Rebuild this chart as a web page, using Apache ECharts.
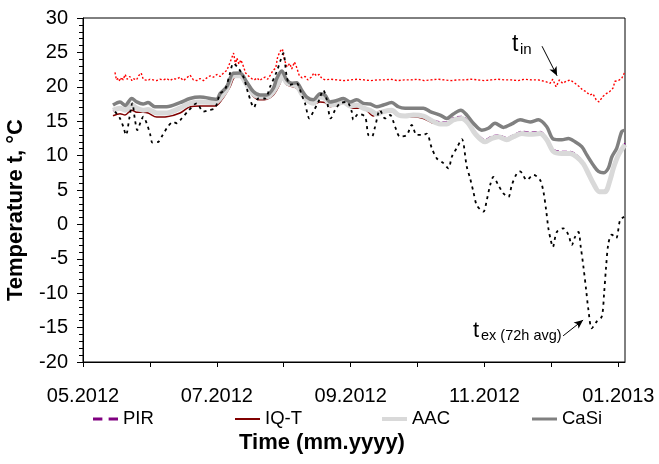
<!DOCTYPE html>
<html>
<head>
<meta charset="utf-8">
<script src="https://cdn.jsdelivr.net/npm/echarts@6/dist/echarts.min.js"></script>
<style>html,body{margin:0;padding:0;background:#fff}#c{width:659px;height:464px}</style>
</head>
<body>
<div id="c"></div>
<script>
// x values are months since 01.05.2012
const xTickValues = [0, 1, 2, 3, 4, 5, 6, 7, 8];
const xTickLabels = ['05.2012', '', '07.2012', '', '09.2012', '', '11.2012', '', '01.2013'];
const yTicks = [-20, 30, 5];

const casi = [[0.448,17.35],[0.553,17.8],[0.628,17.3],[0.728,18.3],[0.803,17.8],[0.897,17.5],[0.972,17.7],[1.076,17.1],[1.251,17.1],[1.450,17.7],[1.599,18.3],[1.749,18.5],[1.999,18.2],[2.048,19.0],[2.148,20.0],[2.247,21.96],[2.347,22.0],[2.447,20.7],[2.546,19.3],[2.646,18.8],[2.746,18.8],[2.845,19.8],[2.895,21.2],[2.970,22.3],[3.045,21.0],[3.120,20.5],[3.194,20.6],[3.269,19.5],[3.344,18.5],[3.442,18.1],[3.543,19.0],[3.617,18.8],[3.692,17.8],[3.792,18.0],[3.891,18.3],[3.991,17.8],[4.091,18.1],[4.190,17.6],[4.290,17.5],[4.390,17.1],[4.489,17.35],[4.614,17.7],[4.713,17.1],[4.813,16.9],[4.937,16.9],[5.087,16.9],[5.187,16.4],[5.336,15.9],[5.437,15.4],[5.535,16.05],[5.646,16.6],[5.735,15.9],[5.834,14.7],[5.960,13.7],[6.058,13.97],[6.158,14.7],[6.283,14.1],[6.408,14.6],[6.532,15.2],[6.682,14.9],[6.806,15.2],[6.931,14.2],[7.030,12.4],[7.156,12.3],[7.254,12.5],[7.354,12.0],[7.454,11.3],[7.529,10.1],[7.628,8.6],[7.703,7.7],[7.777,7.5],[7.852,8.2],[7.903,9.8],[7.977,11.1],[8.052,13.5],[8.100,13.7]];

const aac = [[0.448,16.6],[0.553,16.9],[0.628,16.6],[0.728,17.35],[0.803,16.9],[0.897,16.6],[0.972,16.7],[1.102,16.2],[1.251,16.2],[1.450,16.9],[1.599,17.6],[1.749,17.8],[1.973,17.7],[2.048,18.3],[2.148,19.6],[2.247,21.6],[2.347,21.6],[2.447,20.3],[2.546,18.95],[2.646,18.5],[2.746,18.5],[2.845,19.3],[2.945,21.0],[2.975,21.8],[3.045,20.6],[3.194,20.1],[3.269,19.0],[3.344,18.1],[3.442,17.6],[3.543,18.5],[3.617,18.3],[3.692,17.35],[3.792,17.5],[3.891,17.8],[3.991,17.2],[4.091,17.35],[4.190,16.9],[4.290,16.6],[4.390,16.05],[4.489,16.4],[4.614,16.6],[4.713,15.9],[4.813,15.75],[4.937,15.9],[5.087,15.75],[5.187,15.2],[5.336,14.6],[5.437,14.6],[5.535,15.2],[5.661,15.4],[5.759,14.7],[5.859,13.2],[6.009,12.0],[6.109,12.5],[6.208,12.75],[6.333,12.3],[6.432,12.75],[6.557,13.2],[6.682,13.1],[6.831,13.2],[6.931,12.3],[7.030,10.6],[7.156,10.3],[7.279,10.3],[7.380,9.8],[7.478,8.8],[7.553,7.4],[7.628,5.95],[7.718,4.75],[7.803,4.75],[7.877,6.45],[7.927,8.2],[8.002,10.1],[8.100,11.6]];

const pir = [[0.448,16.5],[0.553,16.8],[0.628,16.5],[0.728,17.2],[0.803,16.8],[0.897,16.5],[0.972,16.6],[1.102,16.1],[1.251,16.1],[1.450,16.8],[1.599,17.5],[1.749,17.7],[1.973,17.6],[2.048,18.2],[2.148,19.5],[2.247,21.5],[2.347,21.5],[2.447,20.2],[2.546,18.9],[2.646,18.4],[2.746,18.4],[2.845,19.2],[2.945,20.9],[2.975,21.7],[3.045,20.5],[3.194,20.0],[3.269,18.9],[3.344,18.0],[3.442,17.5],[3.543,18.4],[3.617,18.2],[3.692,17.3],[3.792,17.4],[3.891,17.7],[3.991,17.2],[4.091,17.3],[4.190,16.9],[4.290,16.6],[4.390,16.1],[4.489,16.4],[4.614,16.7],[4.713,16.0],[4.813,15.9],[4.937,16.0],[5.087,15.9],[5.187,15.4],[5.336,14.9],[5.437,14.9],[5.535,15.5],[5.661,15.7],[5.759,15.0],[5.859,13.5],[6.009,12.3],[6.109,12.8],[6.208,13.0],[6.333,12.6],[6.432,13.0],[6.557,13.5],[6.682,13.4],[6.831,13.5],[6.931,12.6],[7.030,10.9],[7.156,10.6],[7.279,10.6],[7.380,10.1],[7.478,9.0],[7.553,7.5],[7.628,5.9],[7.718,4.9],[7.803,5.0],[7.877,6.6],[7.927,8.4],[8.002,10.3],[8.100,11.8]];

const iqt = [[0.448,15.8],[0.553,16.1],[0.628,15.9],[0.728,16.6],[0.803,16.3],[0.897,16.3],[0.972,16.2],[1.102,15.6],[1.251,15.65],[1.450,16.2],[1.599,17.1],[1.749,17.2],[1.973,17.2],[2.073,18.1],[2.197,20.0],[2.272,21.4],[2.347,21.4],[2.447,20.0],[2.546,18.6],[2.646,18.1],[2.746,18.2],[2.845,18.8],[2.945,20.5],[2.975,21.6],[3.045,20.3],[3.194,19.8],[3.269,18.7],[3.344,17.9],[3.442,17.5],[3.543,17.8],[3.617,17.7],[3.692,17.1],[3.792,17.3],[3.891,17.6],[4.030,16.9],[4.190,16.9],[4.340,15.75],[4.440,16.5],[4.614,16.4],[4.713,15.75],[4.840,15.6],[4.937,15.65],[5.087,15.4],[5.230,14.7]];

const tex = [[0.478,16.4],[0.553,15.4],[0.602,14.2],[0.643,13.0],[0.692,15.4],[0.737,17.6],[0.777,15.2],[0.812,13.7],[0.862,14.9],[0.901,15.65],[0.952,14.7],[1.001,13.2],[1.039,11.9],[1.126,12.0],[1.176,12.75],[1.275,14.3],[1.350,14.9],[1.401,14.7],[1.475,15.4],[1.574,16.5],[1.700,17.6],[1.798,16.4],[1.873,16.6],[1.973,16.9],[2.048,19.0],[2.123,19.6],[2.197,21.96],[2.247,23.4],[2.321,22.7],[2.396,21.5],[2.471,19.0],[2.556,17.0],[2.620,18.3],[2.720,18.3],[2.795,20.0],[2.895,22.2],[2.945,23.65],[2.994,24.9],[3.045,21.5],[3.094,20.3],[3.194,20.5],[3.269,18.8],[3.318,17.6],[3.383,15.4],[3.442,16.4],[3.517,17.8],[3.592,19.5],[3.643,18.1],[3.702,15.4],[3.767,16.6],[3.842,17.6],[3.942,17.8],[4.016,16.4],[4.040,15.2],[4.115,16.05],[4.215,15.65],[4.264,13.0],[4.315,12.75],[4.365,14.2],[4.439,16.6],[4.514,15.4],[4.589,15.9],[4.664,14.2],[4.738,12.75],[4.839,13.0],[4.913,14.45],[4.988,13.0],[5.087,13.0],[5.137,13.2],[5.212,11.1],[5.287,9.6],[5.386,8.9],[5.461,8.15],[5.511,9.8],[5.586,11.1],[5.661,12.4],[5.735,8.4],[5.785,6.7],[5.834,4.75],[5.885,2.8],[5.984,1.85],[6.034,3.5],[6.084,5.7],[6.133,6.9],[6.208,5.7],[6.283,4.5],[6.357,4.0],[6.408,5.7],[6.483,7.4],[6.532,7.7],[6.632,6.45],[6.731,7.2],[6.831,6.45],[6.881,4.75],[6.921,2.1],[6.955,-0.57],[6.991,-2.3],[7.021,-3.3],[7.081,-1.1],[7.180,-0.57],[7.254,-1.5],[7.305,-3.0],[7.354,-1.8],[7.404,-1.1],[7.439,-3.3],[7.478,-6.1],[7.519,-9.5],[7.553,-12.4],[7.604,-15.1],[7.679,-14.1],[7.753,-13.4],[7.788,-10.0],[7.818,-6.1],[7.852,-2.75],[7.903,-1.5],[7.967,-2.0],[8.027,0.64],[8.087,1.1]];

const tin = [[0.478,22.1],[0.50,21.0],[0.53,21.3],[0.55,20.8],[0.58,21.4],[0.60,21.0],[0.63,21.8],[0.66,21.1],[0.70,21.5],[0.73,20.9],[0.75,21.2],[0.80,21.0],[0.83,21.6],[0.87,22.0],[0.90,21.1],[0.93,21.0],[0.97,20.9],[1.00,21.1],[1.05,21.0],[1.10,20.9],[1.15,21.1],[1.20,21.0],[1.25,21.2],[1.30,20.9],[1.35,21.2],[1.40,21.1],[1.45,21.4],[1.50,20.9],[1.55,21.3],[1.60,21.7],[1.65,21.0],[1.70,20.9],[1.75,21.2],[1.80,20.9],[1.85,21.3],[1.90,21.6],[1.95,21.4],[2.00,21.8],[2.05,21.5],[2.10,22.0],[2.15,22.4],[2.20,23.6],[2.25,24.9],[2.28,23.2],[2.30,24.2],[2.33,23.3],[2.36,23.9],[2.40,22.9],[2.43,22.0],[2.47,21.6],[2.52,21.2],[2.56,21.0],[2.60,21.3],[2.64,20.9],[2.68,21.2],[2.72,21.4],[2.76,21.1],[2.80,21.7],[2.84,22.4],[2.88,22.7],[2.91,24.4],[2.95,25.2],[2.98,25.5],[3.01,23.9],[3.05,22.9],[3.09,23.4],[3.12,22.6],[3.16,23.6],[3.19,22.9],[3.23,21.7],[3.27,21.3],[3.32,21.5],[3.36,21.0],[3.41,21.4],[3.45,22.0],[3.49,21.6],[3.53,21.8],[3.57,21.2],[3.62,21.0],[3.70,21.1],[3.80,21.0],[3.90,20.9],[4.00,21.0],[4.10,21.1],[4.20,21.0],[4.30,20.9],[4.40,21.0],[4.50,21.0],[4.60,21.1],[4.70,20.9],[4.80,21.0],[4.90,21.0],[5.00,21.1],[5.10,20.9],[5.20,21.0],[5.30,21.1],[5.40,21.0],[5.50,20.9],[5.60,21.0],[5.70,21.0],[5.80,21.1],[5.90,21.0],[6.00,20.9],[6.10,21.0],[6.20,21.1],[6.30,21.0],[6.40,21.0],[6.50,20.9],[6.60,21.1],[6.70,21.0],[6.80,21.0],[6.90,20.8],[6.98,20.5],[7.02,21.1],[7.07,20.0],[7.12,21.0],[7.17,20.5],[7.22,20.8],[7.28,21.0],[7.34,20.6],[7.42,20.0],[7.47,19.5],[7.52,19.3],[7.57,18.8],[7.62,19.0],[7.67,18.1],[7.71,17.8],[7.77,18.6],[7.82,19.0],[7.87,19.3],[7.92,19.8],[7.95,20.8],[8.00,20.9],[8.05,21.2],[8.09,22.0]];

// annotation arrows (data coordinates)
const tinArrow = [[6.86, 25.9], [7.085, 21.6]];
const texArrow = [[7.175, -16.2], [7.474, -13.9]];

const FONT = '"Liberation Sans", Arial, Helvetica, sans-serif';
const chart = echarts.init(document.getElementById('c'), null, {renderer: 'canvas'});

function legendFor(name, left, icon, h) {
  return {
    data: [name], left: left, top: 409, orient: 'horizontal',
    icon: icon, itemWidth: 25, itemHeight: h, itemGap: 0, padding: 0,
    symbolKeepAspect: false,
    selectedMode: false,
    textStyle: {fontSize: 18.5, color: '#000', fontFamily: FONT, lineHeight: 20}
  };
}

function arrowMark(pts) {
  return {
    silent: true, animation: false,
    symbol: ['none', 'arrow'], symbolSize: [6, 9],
    lineStyle: {color: '#000', width: 1, type: 'solid'},
    label: {show: false},
    data: [[{coord: pts[0]}, {coord: pts[1]}]]
  };
}

chart.setOption({
  animation: false,
  backgroundColor: '#fff',
  grid: {left: 83, top: 18, right: 34, bottom: 102, show: true, borderColor: '#000', borderWidth: 1, containLabel: false},
  xAxis: {
    type: 'value', min: 0, max: 8.1, interval: 1,
    axisLine: {show: true, onZero: false, lineStyle: {color: '#000', width: 1}},
    axisTick: {show: true, inside: false, length: 5, lineStyle: {color: '#000'}, customValues: xTickValues},
    axisLabel: {
      customValues: xTickValues.filter((v, i) => xTickLabels[i] !== ''),
      formatter: v => xTickLabels[Math.round(v)] || '',
      fontSize: 20, color: '#000', fontFamily: FONT, margin: 24
    },
    splitLine: {show: false}
  },
  yAxis: {
    type: 'value', min: yTicks[0], max: yTicks[1], interval: yTicks[2],
    axisLine: {show: true, onZero: false, lineStyle: {color: '#000', width: 1}},
    axisTick: {show: true, inside: false, length: 6, lineStyle: {color: '#000'}},
    minorTick: {show: true, splitNumber: 5, length: 4, lineStyle: {color: '#000'}},
    axisLabel: {fontSize: 20, color: '#000', fontFamily: FONT, margin: 15},
    splitLine: {show: false}
  },
  legend: [
    legendFor('PIR', 93, 'path://M0,0H9V3H0ZM15,0H24V3H15Z', 3),
    legendFor('IQ-T', 235, 'rect', 2),
    legendFor('AAC', 382, 'rect', 4),
    legendFor('CaSi', 532, 'rect', 3)
  ],
  series: [
    {name: 'PIR', type: 'line', data: pir, symbol: 'none', smooth: 0.3,
     lineStyle: {color: '#800080', width: 1.5, type: [5, 3]}, itemStyle: {color: '#800080'}},
    {name: 'IQ-T', type: 'line', data: iqt, symbol: 'none', smooth: 0.3,
     lineStyle: {color: '#800000', width: 1.5}, itemStyle: {color: '#800000'}},
    {name: 'AAC', type: 'line', data: aac, symbol: 'none', smooth: 0.3,
     lineStyle: {color: '#d9d9d9', width: 5}, itemStyle: {color: '#d9d9d9'}},
    {name: 'CaSi', type: 'line', data: casi, symbol: 'none', smooth: 0.3,
     lineStyle: {color: '#808080', width: 3.5}, itemStyle: {color: '#808080'}},
    {name: 't_in', type: 'line', data: tin, symbol: 'none',
     lineStyle: {color: '#ff0000', width: 1.4, type: [2, 2]}, itemStyle: {color: '#ff0000'},
     markLine: arrowMark(tinArrow)},
    {name: 't_ex', type: 'line', data: tex, symbol: 'none', smooth: 0.3,
     lineStyle: {color: '#000', width: 1.8, type: [3, 4]}, itemStyle: {color: '#000'},
     markLine: arrowMark(texArrow)}
  ],
  graphic: [
    {type: 'text', x: 16, y: 210, rotation: Math.PI / 2,
     style: {text: 'Temperature t, °C', font: 'bold 22px ' + FONT, fill: '#000', align: 'center', verticalAlign: 'middle'}},
    {type: 'text', x: 322, y: 443,
     style: {text: 'Time (mm.yyyy)', font: 'bold 22px ' + FONT, fill: '#000', align: 'center', verticalAlign: 'middle'}},
    {type: 'text', x: 512, y: 45,
     style: {text: 't', font: '23px ' + FONT, fill: '#000', align: 'left', verticalAlign: 'middle'}},
    {type: 'text', x: 520, y: 50,
     style: {text: 'in', font: '15px ' + FONT, fill: '#000', align: 'left', verticalAlign: 'middle'}},
    {type: 'text', x: 473, y: 331,
     style: {text: 't', font: '22px ' + FONT, fill: '#000', align: 'left', verticalAlign: 'middle'}},
    {type: 'text', x: 481, y: 336,
     style: {text: 'ex (72h avg)', font: '14.5px ' + FONT, fill: '#000', align: 'left', verticalAlign: 'middle'}}
  ]
});
</script>
</body>
</html>
